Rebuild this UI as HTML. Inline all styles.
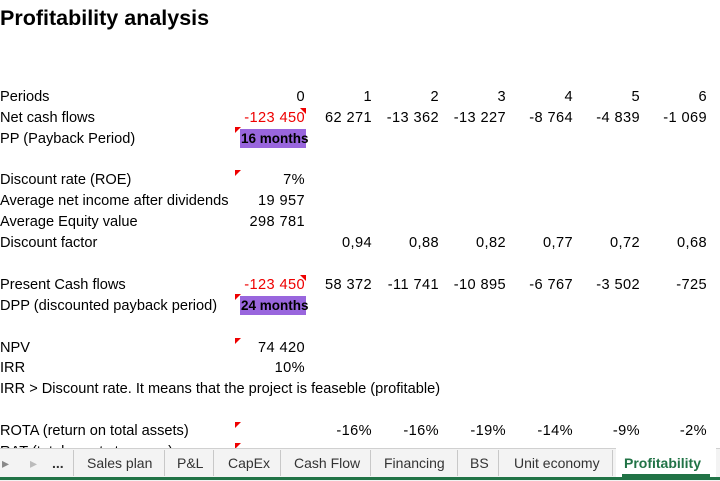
<!DOCTYPE html>
<html><head><style>
body{margin:0;width:720px;height:480px;overflow:hidden;background:#fff;font-family:"Liberation Sans",sans-serif;position:relative;color:#000}
.t{position:absolute;font-size:14.6px;white-space:nowrap;line-height:16px}
.n{letter-spacing:0.4px}
.r{text-align:right}
.red{color:#e00}
.tri{position:absolute;width:0;height:0;border-top:6px solid #e00;border-left:6px solid transparent}
.tril{position:absolute;width:0;height:0;border-top:6px solid #e00;border-right:6px solid transparent}
.pur{position:absolute;background:#9966dd;height:19px}
.tab{position:absolute;top:455px;font-size:14px;color:#333}
.sep{position:absolute;top:450px;width:1px;height:26px;background:#c8c8c8}
</style></head><body>
<div class="t" style="left:0;top:6px;font-size:21.5px;font-weight:bold;line-height:24px">Profitability analysis</div>
<div id="rows"></div>
<div style="position:absolute;left:0;top:448px;width:720px;height:32px;background:#f3f3f3;border-top:1px solid #d0d0d0"></div>
<div style="position:absolute;left:0;top:477px;width:720px;height:3px;background:#217346"></div>
<div style="position:absolute;left:616px;top:448px;width:100px;height:29px;background:#fff"></div>
<div style="position:absolute;left:622px;top:474px;width:88px;height:3px;background:#217346"></div>
<div class="tab" style="left:2px;color:#888">▸</div>
<div class="tab" style="left:30px;color:#bbb">▸</div>
<div class="tab" style="left:52px;font-weight:bold">...</div>
<div class="sep" style="left:73px"></div>
<div class="tab" style="left:87px">Sales plan</div>
<div class="sep" style="left:164px"></div>
<div class="tab" style="left:177px">P&amp;L</div>
<div class="sep" style="left:213px"></div>
<div class="tab" style="left:228px">CapEx</div>
<div class="sep" style="left:280px"></div>
<div class="tab" style="left:294px">Cash Flow</div>
<div class="sep" style="left:370px"></div>
<div class="tab" style="left:384px">Financing</div>
<div class="sep" style="left:457px"></div>
<div class="tab" style="left:470px">BS</div>
<div class="sep" style="left:498px"></div>
<div class="tab" style="left:514px">Unit economy</div>
<div class="sep" style="left:612px"></div>
<div class="tab" style="left:624px;font-weight:bold;color:#217346">Profitability</div>
<script>
const R=[
[97,"Periods",["0","1","2","3","4","5","6"]],
[118,"Net cash flows",["-123 450","62 271","-13 362","-13 227","-8 764","-4 839","-1 069"]],
[139,"PP (Payback Period)",[]],
[180,"Discount rate (ROE)",["7%"]],
[201,"Average net income after dividends",["19 957"]],
[222,"Average Equity value",["298 781"]],
[243,"Discount factor",["","0,94","0,88","0,82","0,77","0,72","0,68"]],
[285,"Present Cash flows",["-123 450","58 372","-11 741","-10 895","-6 767","-3 502","-725"]],
[306,"DPP (discounted payback period)",[]],
[348,"NPV",["74 420"]],
[368,"IRR",["10%"]],
[389,"IRR > Discount rate. It means that the project is feaseble (profitable)",[]],
[431,"ROTA (return on total assets)",["","-16%","-16%","-19%","-14%","-9%","-2%"]],
];
const rx=[305,372,439,506,573,640,707];
let h="";
for(const [y,l,v] of R){
 h+=`<div class="t" style="left:0;top:${y-8}px">${l}</div>`;
 v.forEach((s,i)=>{if(s)h+=`<div class="t n r${s=="-123 450"?" red":""}" style="left:${rx[i]-80}px;width:80px;top:${y-8}px">${s}</div>`});
}
h+=`<div class="t" style="left:0;top:444px;height:4px;overflow:hidden">RAT (total assets turnover)</div>`;
h+=`<div class="pur" style="left:240px;top:129px;width:66px"></div><div class="t" style="left:241px;top:131px;font-weight:bold;font-size:13.5px">16 months</div>`;
h+=`<div class="pur" style="left:240px;top:296px;width:66px"></div><div class="t" style="left:241px;top:298px;font-weight:bold;font-size:13.5px">24 months</div>`;
[[300,108],[300,275]].forEach(([x,y])=>h+=`<div class="tri" style="left:${x}px;top:${y}px"></div>`);
[[235,127],[235,170],[235,294],[235,338],[235,422],[235,443]].forEach(([x,y])=>h+=`<div class="tril" style="left:${x}px;top:${y}px"></div>`);
document.getElementById("rows").innerHTML=h;
</script>
</body></html>
